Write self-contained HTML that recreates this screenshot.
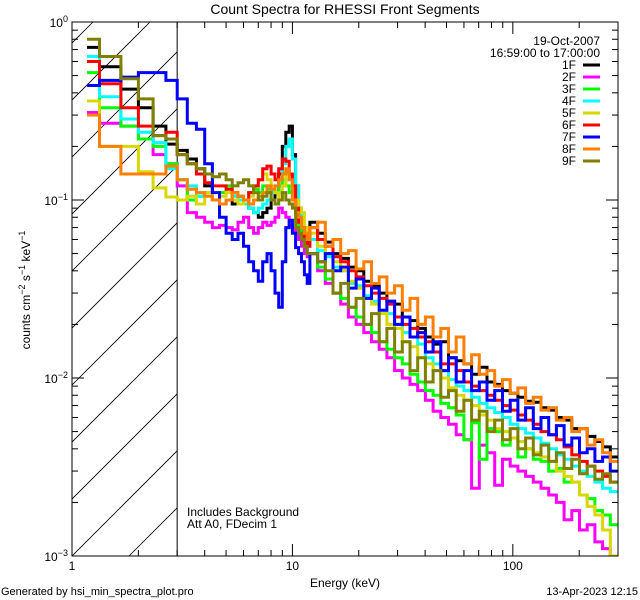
<!DOCTYPE html>
<html><head><meta charset="utf-8"><style>
html,body{margin:0;padding:0;background:#fff;}
svg{display:block;font-family:"Liberation Sans",sans-serif;}
</style></head><body>
<svg id="chart" width="640" height="600" viewBox="0 0 640 600">
<text x="345" y="14" font-size="14" text-anchor="middle">Count Spectra for RHESSI Front Segments</text>
<text x="30" y="290" font-size="12" text-anchor="middle" transform="rotate(-90 30 290)">counts cm<tspan dy="-5" font-size="9">−2</tspan><tspan dy="5"> s</tspan><tspan dy="-5" font-size="9">−1</tspan><tspan dy="5"> keV</tspan><tspan dy="-5" font-size="9">−1</tspan></text>
<text x="345" y="587" font-size="12" text-anchor="middle">Energy (keV)</text>
<text x="1" y="595" font-size="11">Generated by hsi_min_spectra_plot.pro</text>
<text x="638" y="595" font-size="11" text-anchor="end">13-Apr-2023 12:15</text>
<g id="plot"></g>
</svg>
<script>
// ---- data ----
const segments = ["1F","2F","3F","4F","5F","6F","7F","8F","9F"];
const segColors = ["#000000","#ff00ff","#00ff00","#00ffff","#d8d800","#ff0000","#0000ff","#ff8000","#808000"];
const xTicksMajor = [1,10,100];
const xTickLabels = ["1","10","100"];
const yTickExps = [0,-1,-2,-3];
// low energies 1.17-3 keV (6 bins), 3-12 keV 1/3 keV bins (27), 12-300 keV (40 log bins)
const lowEdges = [1.17,1.333,1.667,2.0,2.333,2.667,3.0];
const s1F_low = [0.72,0.56,0.42,0.33,0.26,0.206];
const s2F_low = [0.31,0.27,0.26,0.22,0.18,0.16];
const s3F_low = [0.52,0.33,0.26,0.22,0.20,0.16];
const s4F_low = [0.64,0.38,0.285,0.24,0.21,0.15];
const s5F_low = [0.36,0.20,0.20,0.144,0.117,0.104];
const s6F_low = [0.60,0.45,0.33,0.26,0.23,0.24];
const s7F_low = [0.44,0.47,0.49,0.52,0.52,0.47];
const s8F_low = [0.30,0.20,0.14,0.14,0.14,0.155];
const s9F_low = [0.80,0.64,0.48,0.37,0.23,0.22];
const s1F_mid = [0.19,0.17,0.15,0.12,0.10,0.095,0.10,0.095,0.10,0.10,0.09,0.085,0.08,0.085,0.09,0.10,0.11,0.14,0.20,0.24,0.26,0.18,0.12,0.09,0.07,0.065,0.06];
const s2F_mid = [0.12,0.085,0.08,0.075,0.07,0.072,0.07,0.068,0.075,0.08,0.07,0.065,0.07,0.075,0.072,0.075,0.08,0.09,0.085,0.08,0.072,0.07,0.065,0.06,0.055,0.05,0.048];
const s3F_mid = [0.13,0.10,0.105,0.11,0.10,0.11,0.12,0.11,0.105,0.10,0.11,0.115,0.11,0.12,0.115,0.11,0.11,0.12,0.13,0.12,0.11,0.10,0.085,0.07,0.06,0.055,0.05];
const s4F_mid = [0.13,0.12,0.105,0.11,0.10,0.095,0.10,0.105,0.10,0.095,0.09,0.085,0.09,0.095,0.10,0.11,0.12,0.13,0.16,0.20,0.22,0.17,0.12,0.085,0.07,0.06,0.055];
const s5F_mid = [0.10,0.105,0.095,0.11,0.10,0.105,0.11,0.10,0.095,0.10,0.105,0.12,0.13,0.14,0.13,0.12,0.11,0.10,0.12,0.145,0.13,0.11,0.10,0.09,0.085,0.07,0.065];
const s6F_mid = [0.18,0.16,0.14,0.125,0.12,0.12,0.115,0.11,0.105,0.10,0.11,0.12,0.13,0.15,0.155,0.14,0.13,0.15,0.17,0.165,0.14,0.12,0.09,0.075,0.07,0.06,0.055];
const s7F_mid = [0.37,0.27,0.25,0.16,0.11,0.08,0.065,0.06,0.065,0.055,0.045,0.040,0.035,0.045,0.050,0.04,0.03,0.025,0.045,0.07,0.077,0.065,0.054,0.05,0.045,0.038,0.034];
const s8F_mid = [0.13,0.115,0.11,0.105,0.10,0.095,0.10,0.11,0.105,0.10,0.095,0.10,0.105,0.11,0.12,0.115,0.12,0.13,0.14,0.15,0.13,0.10,0.085,0.08,0.07,0.065,0.06];
const s9F_mid = [0.18,0.16,0.15,0.14,0.135,0.14,0.13,0.12,0.125,0.13,0.12,0.11,0.10,0.105,0.11,0.10,0.095,0.10,0.11,0.10,0.095,0.09,0.07,0.065,0.06,0.055,0.05];
const s1F_high = [0.075,0.065,0.058,0.05,0.047,0.042,0.04,0.035,0.033,0.03,0.027,0.026,0.022,0.021,0.019,0.017,0.0155,0.016,0.013,0.0125,0.012,0.0105,0.0115,0.0095,0.0092,0.0085,0.0082,0.0078,0.0074,0.0073,0.0068,0.0066,0.006,0.0058,0.0052,0.0052,0.0047,0.0044,0.0041,0.0036];
const s2F_high = [0.05,0.04,0.034,0.03,0.026,0.022,0.02,0.018,0.016,0.0145,0.013,0.011,0.01,0.0092,0.0085,0.0075,0.0065,0.006,0.0055,0.0048,0.0045,0.0024,0.0042,0.0038,0.0025,0.0035,0.0032,0.003,0.0028,0.0026,0.0024,0.0022,0.002,0.0016,0.0018,0.0014,0.0015,0.0012,0.0011,0.0009];
const s3F_high = [0.05,0.042,0.036,0.03,0.028,0.025,0.022,0.02,0.018,0.016,0.0145,0.013,0.012,0.0105,0.0095,0.0085,0.008,0.0072,0.0068,0.0062,0.0045,0.0056,0.0035,0.0052,0.005,0.0042,0.0046,0.0036,0.004,0.0035,0.0034,0.0030,0.0031,0.0026,0.0026,0.0022,0.0021,0.0018,0.0017,0.0015];
const s4F_high = [0.06,0.052,0.048,0.042,0.04,0.034,0.033,0.029,0.027,0.024,0.023,0.02,0.018,0.017,0.0155,0.013,0.012,0.011,0.0098,0.009,0.0085,0.0078,0.0072,0.0068,0.0064,0.006,0.0055,0.0052,0.0049,0.0046,0.0043,0.004,0.0037,0.0035,0.0032,0.003,0.0028,0.0026,0.0024,0.0023];
const s5F_high = [0.065,0.055,0.05,0.045,0.04,0.035,0.032,0.028,0.026,0.023,0.02,0.019,0.016,0.015,0.013,0.012,0.011,0.01,0.0088,0.008,0.0075,0.007,0.0062,0.0058,0.0052,0.005,0.0046,0.0044,0.004,0.0038,0.0036,0.0034,0.003,0.0028,0.0026,0.0022,0.0019,0.0017,0.0014,0.0010];
const s6F_high = [0.07,0.06,0.055,0.048,0.045,0.04,0.037,0.033,0.03,0.028,0.026,0.022,0.02,0.019,0.017,0.016,0.014,0.012,0.012,0.011,0.0095,0.009,0.0085,0.008,0.0075,0.007,0.0066,0.0062,0.0058,0.0055,0.005,0.0048,0.0045,0.0041,0.0037,0.0034,0.0032,0.003,0.0028,0.0026];
const s7F_high = [0.05,0.045,0.05,0.04,0.042,0.032,0.036,0.028,0.032,0.024,0.027,0.02,0.022,0.017,0.018,0.014,0.016,0.011,0.013,0.0095,0.011,0.0085,0.0095,0.0075,0.0085,0.0065,0.0075,0.0058,0.0068,0.0052,0.006,0.0048,0.0054,0.0042,0.0046,0.0038,0.004,0.0034,0.0036,0.003];
const s8F_high = [0.07,0.075,0.055,0.06,0.05,0.052,0.041,0.045,0.034,0.037,0.03,0.033,0.024,0.028,0.02,0.022,0.017,0.019,0.014,0.017,0.012,0.0135,0.0105,0.011,0.009,0.0098,0.0082,0.0088,0.0072,0.0078,0.0066,0.0068,0.0058,0.006,0.005,0.0052,0.0042,0.0045,0.0038,0.0034];
const s9F_high = [0.05,0.045,0.04,0.03,0.034,0.025,0.028,0.02,0.023,0.016,0.019,0.014,0.016,0.011,0.013,0.0095,0.011,0.0078,0.0085,0.0065,0.0075,0.0058,0.0065,0.005,0.0058,0.0045,0.0052,0.004,0.0046,0.0037,0.0042,0.0034,0.0038,0.0031,0.0035,0.0029,0.0032,0.0027,0.0029,0.0026];

// ---- layout ----
const L=72,R=618,T=22,B=556;
const xMin=0, xMax=Math.log10(300);
const yMin=-3, yMax=0;
function xs(e){return L+(Math.log10(e)-xMin)/(xMax-xMin)*(R-L);}
function ys(v){return B-(Math.log10(v)-yMin)/(yMax-yMin)*(B-T);}
const NS="http://www.w3.org/2000/svg";
const plot=document.getElementById('plot');
function mk(tag,attrs,parent){const e=document.createElementNS(NS,tag);for(const k in attrs)e.setAttribute(k,attrs[k]);(parent||plot).appendChild(e);return e;}

// energy edges (categories)
const edges=lowEdges.slice();
for(let i=1;i<=27;i++) edges.push(3+i/3);
for(let i=1;i<=40;i++) edges.push(12*Math.pow(25,i/40));

const defs=mk('defs',{});
const cp=mk('clipPath',{id:'pc'},defs);
mk('rect',{x:L,y:T,width:R-L,height:B-T},cp);
const hc=mk('clipPath',{id:'hc'},defs);
mk('rect',{x:L,y:T,width:xs(3)-L,height:B-T},hc);

// hatched region
const hatch=mk('g',{'clip-path':'url(#hc)'});


for(let k=-12;k<12;k++){
  const x0=L+k*57;
  mk('line',{x1:x0,y1:B,x2:x0+(B-T),y2:T,stroke:'#000','stroke-width':0.8},hatch);
}
const hl=mk('line',{x1:xs(3),y1:T,x2:xs(3),y2:B,stroke:'#000','stroke-width':1});



// series
const allVals=[
 s1F_low.concat(s1F_mid,s1F_high), s2F_low.concat(s2F_mid,s2F_high), s3F_low.concat(s3F_mid,s3F_high),
 s4F_low.concat(s4F_mid,s4F_high), s5F_low.concat(s5F_mid,s5F_high), s6F_low.concat(s6F_mid,s6F_high),
 s7F_low.concat(s7F_mid,s7F_high), s8F_low.concat(s8F_mid,s8F_high), s9F_low.concat(s9F_mid,s9F_high)];
const sg=mk('g',{'clip-path':'url(#pc)'});
allVals.forEach((vals,si)=>{
  let d='';
  vals.forEach((v,i)=>{
    const x0=xs(edges[i]),x1=xs(edges[i+1]),y=ys(v);
    d+=(i===0?'M':'L')+x0.toFixed(1)+','+y.toFixed(1)+'L'+x1.toFixed(1)+','+y.toFixed(1);
  });
  const p=mk('path',{d:d,fill:'none',stroke:segColors[si],'stroke-width':3,'stroke-linejoin':'miter'},sg);
  
  
});

// frame
const fr=mk('rect',{x:L,y:T,width:R-L,height:B-T,fill:'none',stroke:'#000','stroke-width':1});



// x ticks
const xt=mk('g',{stroke:'#000','stroke-width':1});


for(let dec=1;dec<=100;dec*=10){
  for(let m=1;m<=9;m++){
    const e=dec*m; if(e>300) break;
    const x=xs(e), len=(m===1)?12:6;
    mk('line',{x1:x,y1:B,x2:x,y2:B-len},xt);
    mk('line',{x1:x,y1:T,x2:x,y2:T+len},xt);
  }
}
xTicksMajor.forEach((e,i)=>{
  const t=mk('text',{x:xs(e),y:570,'font-size':12,'text-anchor':'middle'});
  t.textContent=xTickLabels[i];
  
  
});
// y ticks
const yt=mk('g',{stroke:'#000','stroke-width':1});


for(let ex=-3;ex<0;ex++){
  for(let m=1;m<=9;m++){
    const v=m*Math.pow(10,ex), y=ys(v), len=(m===1)?12:6;
    mk('line',{x1:L,y1:y,x2:L+len,y2:y},yt);
    mk('line',{x1:R,y1:y,x2:R-len,y2:y},yt);
  }
}
yTickExps.forEach(ex=>{
  const y=ys(Math.pow(10,ex));
  const t=mk('text',{x:L-4,y:y+5,'font-size':12,'text-anchor':'end'});
  t.innerHTML='10<tspan dy="-5" font-size="9">'+(ex===0?'0':'−'+(-ex))+'</tspan>';
  
  
});

// legend
const lg=mk('g',{'font-size':12});


const d1=mk('text',{x:600,y:45,'text-anchor':'end'},lg); d1.textContent='19-Oct-2007';


const d2=mk('text',{x:600,y:57,'text-anchor':'end'},lg); d2.textContent='16:59:00 to 17:00:00';


segments.forEach((s,i)=>{
  const y=69+i*12;
  const g=mk('g',{},lg);
  
  
  const t=mk('text',{x:576,y:y,'text-anchor':'end'},g); t.textContent=s;
  mk('line',{x1:583,y1:y-4,x2:600,y2:y-4,stroke:segColors[i],'stroke-width':3},g);
});

// annotation
const an=mk('text',{x:187,y:516,'font-size':12});
an.innerHTML='<tspan x="187">Includes Background</tspan><tspan x="187" dy="12">Att A0, FDecim 1</tspan>';


</script>
</body></html>
